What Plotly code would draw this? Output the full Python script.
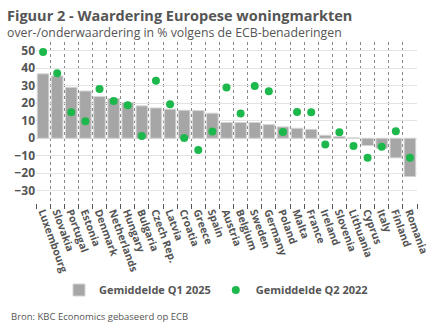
import plotly.graph_objects as go

countries = ["Luxembourg", "Slovakia", "Portugal", "Estonia", "Denmark", "Netherlands",
             "Hungary", "Bulgaria", "Czech Rep.", "Latvia", "Croatia", "Greece", "Spain",
             "Austria", "Belgium", "Sweden", "Germany", "Poland", "Malta", "France",
             "Ireland", "Slovenia", "Lithuania", "Cyprus", "Italy", "Finland", "Romania"]
q1_2025 = [36.8, 35.6, 29.1, 27.0, 23.8, 22.7, 20.4, 18.5, 17.3, 16.6, 16.0, 15.8, 14.3,
           9.0, 9.0, 9.0, 7.8, 6.5, 5.7, 5.1, 1.7, 1.0, 0.2, -4.2, -5.7, -11.2, -21.9]
q2_2022 = [49.3, 37.1, 14.9, 9.7, 28.2, 21.3, 18.9, 1.3, 32.8, 19.4, 0.2, -6.7, 3.8,
           29.0, 14.1, 29.9, 26.9, 3.6, 15.0, 14.9, -3.6, 3.4, -4.4, -11.2, -4.8, 4.0, -11.2]
y_ticks = [-30, -20, -10, 0, 10, 20, 30, 40, 50]

FONT = "Open Sans"
TXT = "#555555"
W, H = 432, 334
L, R, T, B = 36, 15, 42, 131
PW, PH = W - L - R, H - T - B

fig = go.Figure()
fig.add_trace(go.Bar(
    x=countries, y=q1_2025, name="Gemiddelde Q1 2025",
    marker=dict(color="#a6a6a6", line=dict(color="#d4d4d4", width=1)),
))
fig.add_trace(go.Scatter(
    x=countries, y=q2_2022, name="Gemiddelde Q2 2022", mode="markers",
    marker=dict(color="#1db84c", size=8),
))

fig.update_layout(
    width=W, height=H,
    margin=dict(l=L, r=R, t=T, b=B, autoexpand=False),
    paper_bgcolor="white", plot_bgcolor="white",
    font=dict(family=FONT, color=TXT),
    bargap=0.18,
    showlegend=True,
    legend=dict(orientation="h", x=0.5, xanchor="center", xref="container",
                y=(H - 290) / H, yanchor="middle", yref="container",
                font=dict(size=11, color=TXT, family=FONT, weight="bold"),
                tracegroupgap=0, itemwidth=30, entrywidth=0),
)

def px_x(px):
    return (px - L) / PW

def px_y(py):
    return 1 - (py - T) / PH

fig.add_annotation(text="<b>Figuur 2 - Waardering Europese woningmarkten</b>",
                   xref="paper", yref="paper", x=px_x(5), y=px_y(16),
                   xanchor="left", yanchor="middle", showarrow=False,
                   font=dict(size=14.5, color=TXT, family=FONT))
fig.add_annotation(text="over-/onderwaardering in % volgens de ECB-benaderingen",
                   xref="paper", yref="paper", x=px_x(5), y=px_y(32),
                   xanchor="left", yanchor="middle", showarrow=False,
                   font=dict(size=12.3, color=TXT, family=FONT))
fig.add_annotation(text="Bron: KBC Economics gebaseerd op ECB",
                   xref="paper", yref="paper", x=px_x(9), y=px_y(316),
                   xanchor="left", yanchor="middle", showarrow=False,
                   font=dict(size=9.5, color=TXT, family=FONT))

fig.update_xaxes(
    type="category", tickson="boundaries", ticks="outside", ticklen=5, tickcolor=TXT,
    showgrid=True, gridcolor="#888888", griddash="dot", gridwidth=1,
    tickangle=70, tickfont=dict(size=10.5, color=TXT, family=FONT, weight="bold"),
    showline=False, range=[-0.5, len(countries) - 0.5], automargin=False,
)
fig.update_yaxes(
    range=[-37, 55], tickvals=y_ticks, showgrid=True, gridcolor="#e4e4e4", gridwidth=1,
    zeroline=False, tickfont=dict(size=12, color=TXT, family=FONT, weight="bold"),
    ticks="", showline=False, automargin=False,
)

fig.write_html("out.html")
